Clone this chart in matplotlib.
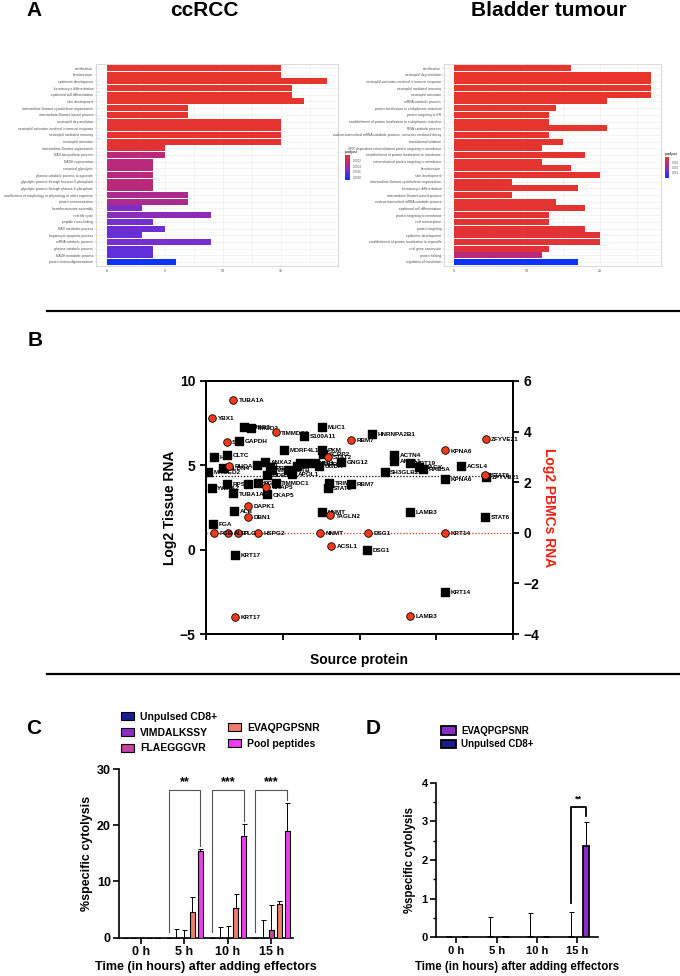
import numpy as np
import matplotlib
matplotlib.use('Agg')
import matplotlib.pyplot as plt
from matplotlib.colors import LinearSegmentedColormap, Normalize
from matplotlib.cm import ScalarMappable
from matplotlib.lines import Line2D

plt.rcParams['font.family'] = ['Liberation Sans', 'DejaVu Sans']

W, H = 680, 976

# ---- panel A: GO enrichment ----
cc_terms = ['cornification', 'keratinization', 'epidermis development',
            'keratinocyte differentiation', 'epidermal cell differentiation',
            'skin development', 'intermediate filament cytoskeleton organization',
            'intermediate filament-based process', 'neutrophil degranulation',
            'neutrophil activation involved in immune response',
            'neutrophil mediated immunity', 'neutrophil activation',
            'intermediate filament organization', 'NAD biosynthetic process',
            'NADH regeneration', 'canonical glycolysis',
            'glucose catabolic process to pyruvate',
            'glycolytic process through fructose-6-phosphate',
            'glycolytic process through glucose-6-phosphate',
            'modification of morphology or physiology of other organism',
            'protein tetramerization', 'hemidesmosome assembly', 'viral life cycle',
            'peptide cross-linking', 'NAD metabolic process',
            'hepatocyte apoptotic process', 'mRNA catabolic process',
            'glucose catabolic process', 'NADH metabolic process',
            'protein heterooligomerization']
cc_count = [15, 15, 19, 16, 16, 17, 7, 7, 15, 15, 15, 15, 5, 5, 4, 4, 4, 4, 4,
            7, 7, 3, 9, 4, 5, 3, 9, 4, 4, 6]
cc_padj = [1e-5, 1e-5, 1e-5, 1e-5, 1e-5, 1e-5, 2e-5, 2e-5, 3e-5, 3e-5, 3e-5,
           3e-5, 6e-5, 3.3e-4, 3.4e-4, 3.4e-4, 3.4e-4, 3.4e-4, 3.4e-4, 3.8e-4,
           3.9e-4, 5.2e-4, 4.9e-4, 5.6e-4, 5.8e-4, 6.0e-4, 5.5e-4, 6.1e-4,
           6.2e-4, 8.9e-4]

bl_terms = ['cornification', 'neutrophil degranulation',
            'neutrophil activation involved in immune response',
            'neutrophil mediated immunity', 'neutrophil activation',
            'mRNA catabolic process', 'protein localization to endoplasmic reticulum',
            'protein targeting to ER',
            'establishment of protein localization to endoplasmic reticulum',
            'RNA catabolic process',
            'nuclear-transcribed mRNA catabolic process, nonsense-mediated decay',
            'translational initiation',
            'SRP-dependent cotranslational protein targeting to membrane',
            'establishment of protein localization to membrane',
            'cotranslational protein targeting to membrane', 'keratinization',
            'skin development', 'intermediate filament cytoskeleton organization',
            'keratinocyte differentiation', 'intermediate filament-based process',
            'nuclear-transcribed mRNA catabolic process',
            'epidermal cell differentiation', 'protein targeting to membrane',
            'viral transcription', 'protein targeting', 'epidermis development',
            'establishment of protein localization to organelle',
            'viral gene expression', 'protein folding', 'regulation of translation']
bl_count = [16, 27, 27, 27, 27, 21, 14, 13, 13, 21, 13, 15, 12, 18, 12, 16, 20,
            8, 17, 8, 14, 18, 13, 13, 18, 20, 20, 13, 12, 17]
bl_padj = [1e-4, 1e-4, 1e-4, 1e-4, 1e-4, 2e-4, 3e-4, 3e-4, 3e-4, 3e-4, 4e-4,
           4e-4, 5e-4, 5e-4, 5e-4, 6e-4, 6e-4, 7e-4, 7e-4, 8e-4, 8e-4, 9e-4,
           1e-3, 1e-3, 1.1e-3, 1.2e-3, 1.2e-3, 1.4e-3, 7.5e-3, 1.99e-2]

# ---- panel B: tissue vs PBMC RNA ----
tis_name = ['TUBB2', 'TMOD2', 'MUC1', 'S100A11', 'HNRNPA2B1', 'GAPDH', 'CLTC',
            'H2B', 'MORF4L1', 'PKM', 'SCRP2', 'GNG12', 'ANXA2', 'MAGED2', 'CLDN4',
            'PFN1', 'PRTN3', 'VIM', 'ACTB', 'LMNA', 'HSPA1', 'HSPB1', 'TUBB',
            'UGDH', 'APOL1', 'DDB1', 'SH3GLB2', 'ACTN4', 'ANXA1', 'KRT19', 'NAGK',
            'RAB5A', 'ACSL4', 'KPNA6', 'ZFYVE21', 'STAT6', 'LAMB3', 'YWHAZ',
            'RPSA', 'TUBA1A', 'ENO1', 'PGK1', 'CKAP5', 'TIMMDC1', 'TRIM29',
            'STAT2', 'RBM7', 'ALB', 'NNMT', 'FGA', 'KRT17', 'DSG1', 'KRT14']
tis_x = [0.495, 0.586, 1.507, 1.281, 2.163, 0.434, 0.278, 0.108, 1.020, 1.515,
         1.524, 1.759, 0.769, 0.030, 0.225, 0.660, 0.834, 0.856, 1.064, 1.181,
         1.225, 1.333, 1.420, 1.476, 1.125, 0.790, 2.328, 2.450, 2.450, 2.658,
         2.779, 2.824, 3.322, 3.114, 3.648, 3.639, 2.658, 0.074, 0.270, 0.356,
         0.551, 0.681, 0.791, 0.908, 1.603, 1.586, 1.889, 0.365, 1.507, 0.091,
         0.378, 2.098, 3.114]
tis_y = [7.29, 7.20, 7.29, 6.76, 6.84, 6.44, 5.61, 5.48, 5.91, 5.91, 5.67, 5.18,
         5.22, 4.59, 4.83, 5.02, 4.88, 4.72, 4.72, 4.96, 5.16, 5.16, 5.12, 4.96,
         4.49, 4.43, 4.62, 5.61, 5.26, 5.16, 4.92, 4.77, 4.96, 4.19, 4.31, 1.96,
         2.22, 3.64, 3.88, 3.34, 3.89, 3.97, 3.28, 3.94, 3.94, 3.64, 3.89, 2.29,
         2.22, 1.52, -0.31, -0.02, -2.51]
tis_mean = 4.36

pb_name = ['TUBA1A', 'YBX1', 'SET', 'TIMMDC1', 'RBM7', 'STAT2', 'RHOA', 'CKAP5',
           'DAPK1', 'DBN1', 'TAGLN2', 'FGB', 'ALB', 'PLG', 'HSPG2', 'NNMT', 'DSG1',
           'KRT14', 'ACSL1', 'KRT17', 'LAMB3', 'ZFYVE21', 'KPNA6', 'STAT6']
pb_x = [0.356, 0.082, 0.270, 0.908, 1.889, 1.586, 0.300, 0.782, 0.551, 0.551,
        1.616, 0.104, 0.287, 0.417, 0.678, 1.485, 2.111, 3.114, 1.629, 0.378,
        2.658, 3.644, 3.114, 3.639]
pb_y = [5.25, 4.53, 3.58, 3.97, 3.66, 3.01, 2.65, 1.82, 1.07, 0.62, 0.69, 0.0,
        0.0, 0.0, 0.0, 0.0, 0.0, 0.0, -0.52, -3.32, -3.29, 3.72, 3.26, 2.30]

# ---- panel C / D: cytolysis ----
times = ['0 h', '5 h', '10 h', '15 h']
c_groups = ['Unpulsed CD8+', 'VIMDALKSSY', 'FLAEGGGVR', 'EVAQPGPSNR', 'Pool peptides']
c_colors = ['#1C1C8E', '#8A2DC6', '#C2449F', '#EF7D6E', '#EE3CEE']
c_mean = [[0, 0, 0, 0],
          [0, 0, 0, 0],
          [0, 0, 0, 1.3],
          [0, 4.6, 5.2, 6.0],
          [0, 15.4, 18.0, 19.0]]
c_err = [[0, 0, 0, 0],
         [0, 1.5, 1.85, 3.2],
         [0, 1.45, 2.1, 4.6],
         [0, 2.7, 2.6, 0.6],
         [0, 0.4, 2.3, 5.0]]
c_sig = ['', '**', '***', '***']

d_groups = ['EVAQPGPSNR', 'Unpulsed CD8+']
d_colors = ['#8A2DC6', '#1C1C8E']
d_mean = [[0, 0, 0, 2.35], [0, 0, 0, 0]]
d_err = [[0, 0, 0, 0.64], [0, 0.53, 0.62, 0.65]]
d_sig = ['', '', '', '**']


def box(l, t, r, b):
    return [l / W, 1 - b / H, (r - l) / W, (b - t) / H]


fig = plt.figure(figsize=(W / 100, H / 100), dpi=100)

go_cmap = LinearSegmentedColormap.from_list(
    'padj', [(0, '#E8342A'), (0.38, '#B8297C'), (0.6, '#7A2ECC'), (1, '#0A32FF')])


def go_bars(rect, terms, counts, padj, norm, major, minor):
    ax = fig.add_axes(rect)
    ypos = np.arange(len(terms))[::-1]
    ax.barh(ypos, counts, height=0.9, color=go_cmap(norm(np.array(padj))), zorder=3)
    ax.set_yticks(ypos, terms, fontsize=2.4, color='#4D4D4D')
    ax.set_xticks(major, [str(m) for m in major])
    ax.set_xticks(minor, minor=True)
    ax.tick_params(axis='x', labelsize=2.6, labelcolor='#4D4D4D', length=1,
                   width=0.3, color='#999999', pad=1)
    ax.tick_params(axis='y', length=1, width=0.3, color='#999999', pad=1)
    ax.tick_params(which='minor', length=0)
    ax.grid(True, which='both', color='#EBEBEB', lw=0.4)
    ax.set_axisbelow(True)
    ax.set_xlim(-0.05 * max(counts), 1.05 * max(counts))
    ax.set_ylim(-0.6, len(terms) - 0.4)
    for s in ax.spines.values():
        s.set_color('#D3D3D3')
        s.set_linewidth(0.6)
    return ax


def pbar(rect, norm, ticks, fmt):
    cax = fig.add_axes(rect)
    cb = fig.colorbar(ScalarMappable(norm, go_cmap), cax=cax, ticks=ticks)
    cb.ax.set_yticklabels([fmt % t for t in ticks])
    cax.invert_yaxis()
    cb.outline.set_visible(False)
    cax.tick_params(labelsize=2, length=1, width=0.3, pad=1, color='white',
                    labelcolor='#4D4D4D')
    cax.set_title('p.adjust', fontsize=2.6, loc='left', pad=1.5)


cc_norm = Normalize(0, 9e-4)
bl_norm = Normalize(0, 2e-2)
go_bars(box(96, 64, 338, 266), cc_terms, cc_count, cc_padj, cc_norm,
        [0, 5, 10, 15], [2.5, 7.5, 12.5, 17.5])
pbar(box(345, 155, 350, 180), cc_norm, [0.0002, 0.0004, 0.0006, 0.0008], '%.4f')
go_bars(box(444, 64, 661, 266), bl_terms, bl_count, bl_padj, bl_norm,
        [0, 10, 20], [5, 15, 25])
pbar(box(665, 157, 669, 178), bl_norm, [0.005, 0.010, 0.015], '%.3f')

fig.text(34.5 / W, 1 - 10 / H, 'A', fontsize=15, fontweight='bold', ha='center', va='center')
fig.text(204 / W, 1 - 10 / H, 'ccRCC', fontsize=15, fontweight='bold', ha='center', va='center')
fig.text(549 / W, 1 - 10 / H, 'Bladder tumour', fontsize=15, fontweight='bold',
         ha='center', va='center')

# separators
for yy in (311, 673.7):
    fig.add_artist(Line2D([47 / W, 1], [1 - yy / H] * 2, color='black', lw=1.6))

# ---- panel B ----
fig.text(35 / W, 1 - 340 / H, 'B', fontsize=15, fontweight='bold', ha='center', va='center')
axB = fig.add_axes(box(206, 381, 513, 634))
axB.set_xlim(0, 4)
axB.set_ylim(-5, 10)
axB.set_xticks(range(5), [''] * 5)
axB.set_yticks([-5, 0, 5, 10])
axB.axhline(tis_mean, ls=(0, (1, 1.5)), color='black', lw=0.9, zorder=1)
axB.scatter(tis_x, tis_y, marker='s', s=26, color='black', zorder=3)
for n, x, y in zip(tis_name, tis_x, tis_y):
    axB.annotate(n, (x, y), xytext=(4, -0.5), textcoords='offset points', va='center',
                 fontsize=4.6, fontweight='bold', zorder=4)
axB.set_ylabel('Log2 Tissue RNA', fontsize=10, fontweight='bold', labelpad=2)
axB.set_xlabel('Source protein', fontsize=10, fontweight='bold', labelpad=6)

axR = axB.twinx()
axR.set_ylim(-4, 6)
axR.set_yticks([-4, -2, 0, 2, 4, 6])
axR.axhline(0, ls=(0, (1, 1.5)), color='#F03020', lw=0.9, zorder=1)
axR.scatter(pb_x, pb_y, marker='o', s=30, color='#F53A1A', edgecolor='black',
            linewidths=0.6, zorder=3)
for n, x, y in zip(pb_name, pb_x, pb_y):
    axR.annotate(n, (x, y), xytext=(4, -0.5), textcoords='offset points', va='center',
                 fontsize=4.6, fontweight='bold', zorder=4)
axR.set_ylabel('Log2 PBMCs RNA', fontsize=10, fontweight='bold', color='#F02010',
               rotation=270, labelpad=12)
for a in (axB, axR):
    for s in a.spines.values():
        s.set_linewidth(1.3)
    a.tick_params(width=1.3, length=4, labelsize=10)
    for lab in a.get_yticklabels():
        lab.set_fontweight('bold')


def style_bar_axes(ax, fs):
    ax.spines[['top', 'right']].set_visible(False)
    for s in ('left', 'bottom'):
        ax.spines[s].set_linewidth(1.2)
    ax.tick_params(width=1.2, length=4, labelsize=fs, pad=2)
    ax.tick_params(which='minor', width=1.0, length=2.5)
    for lab in ax.get_xticklabels() + ax.get_yticklabels():
        lab.set_fontweight('bold')


# ---- panel C ----
fig.text(34 / W, 1 - 728 / H, 'C', fontsize=15, fontweight='bold', ha='center', va='center')
axC = fig.add_axes(box(119.3, 769, 293, 937.7))
xg = np.arange(len(times))
step = 0.183
handles = []
for i, (name, col) in enumerate(zip(c_groups, c_colors)):
    pos = xg + (i - 2) * step
    bc = axC.bar(pos, c_mean[i], width=0.11, color=col, edgecolor='black', lw=0.8,
                 label=name, zorder=3)
    handles.append(bc)
    axC.errorbar(pos, c_mean[i], yerr=[np.zeros(4), c_err[i]], fmt='none',
                 ecolor='black', elinewidth=0.7, capsize=1.8, capthick=0.7, zorder=2)
for t, sig in enumerate(c_sig):
    if not sig:
        continue
    x0, x1 = t - 2 * step, t + 2 * step
    right = c_mean[4][t] + c_err[4][t] + 0.5
    axC.plot([x0, x0, x1, x1], [1.0, 26.2, 26.2, right], color='#555555', lw=0.8,
             zorder=4)
    axC.text(t, 26.6, sig, ha='center', va='bottom', fontsize=9, fontweight='bold')
axC.set_xlim(-0.5, 3.5)
axC.set_ylim(0, 30)
axC.set_xticks(xg, times)
axC.set_yticks([0, 10, 20, 30])
axC.set_ylabel('%specific cytolysis', fontsize=9, fontweight='bold', labelpad=3)
axC.set_xlabel('Time (in hours) after adding effectors', fontsize=9,
               fontweight='bold', labelpad=2)
style_bar_axes(axC, 9)
legp = dict(frameon=False, prop={'weight': 'bold', 'size': 7.5}, handlelength=1.25,
            handleheight=0.8, handletextpad=0.6, labelspacing=0.55, borderpad=0,
            borderaxespad=0, loc='upper left')
fig.legend(handles[:3], c_groups[:3], bbox_to_anchor=(121 / W, 1 - 712 / H), **legp)
fig.legend(handles[3:], c_groups[3:], bbox_to_anchor=(228 / W, 1 - 723 / H), **legp)

# ---- panel D ----
fig.text(373 / W, 1 - 728 / H, 'D', fontsize=15, fontweight='bold', ha='center', va='center')
axD = fig.add_axes(box(436, 782.7, 597.7, 937.3))
d_off = [0.22, -0.17]
dh = []
for i, (name, col) in enumerate(zip(d_groups, d_colors)):
    pos = xg + d_off[i]
    bc = axD.bar(pos, d_mean[i], width=0.15, color=col, edgecolor='black', lw=1.3,
                 label=name, zorder=3)
    dh.append(bc)
    axD.errorbar(pos, d_mean[i], yerr=[np.zeros(4), d_err[i]], fmt='none',
                 ecolor='black', elinewidth=0.7, capsize=1.8, capthick=0.7, zorder=2)
for t, sig in enumerate(d_sig):
    if not sig:
        continue
    x0, x1 = t + d_off[1], t + d_off[0]
    axD.plot([x0, x0, x1, x1], [0.9, 3.37, 3.37, 3.14], color='black', lw=1.3, zorder=4)
    axD.text((x0 + x1) / 2, 3.45, sig, ha='center', va='bottom', fontsize=6.5,
             fontweight='bold')
axD.set_xlim(-0.5, 3.5)
axD.set_ylim(0, 4)
axD.set_xticks(xg, times)
axD.set_yticks([0, 1, 2, 3, 4])
axD.set_yticks(np.arange(0.5, 4, 1), minor=True)
axD.set_ylabel('%specific cytolysis', fontsize=8.3, fontweight='bold', labelpad=4)
axD.set_xlabel('Time (in hours) after adding effectors', fontsize=8.3,
               fontweight='bold', labelpad=4)
style_bar_axes(axD, 8)
legd = dict(legp)
legd['prop'] = {'weight': 'bold', 'size': 7}
legd['handlelength'] = 1.5
legd['handleheight'] = 1.0
legd['labelspacing'] = 0.35
fig.legend(dh, d_groups, bbox_to_anchor=(441 / W, 1 - 726 / H), **legd)

fig.savefig('out.png', dpi=100)
